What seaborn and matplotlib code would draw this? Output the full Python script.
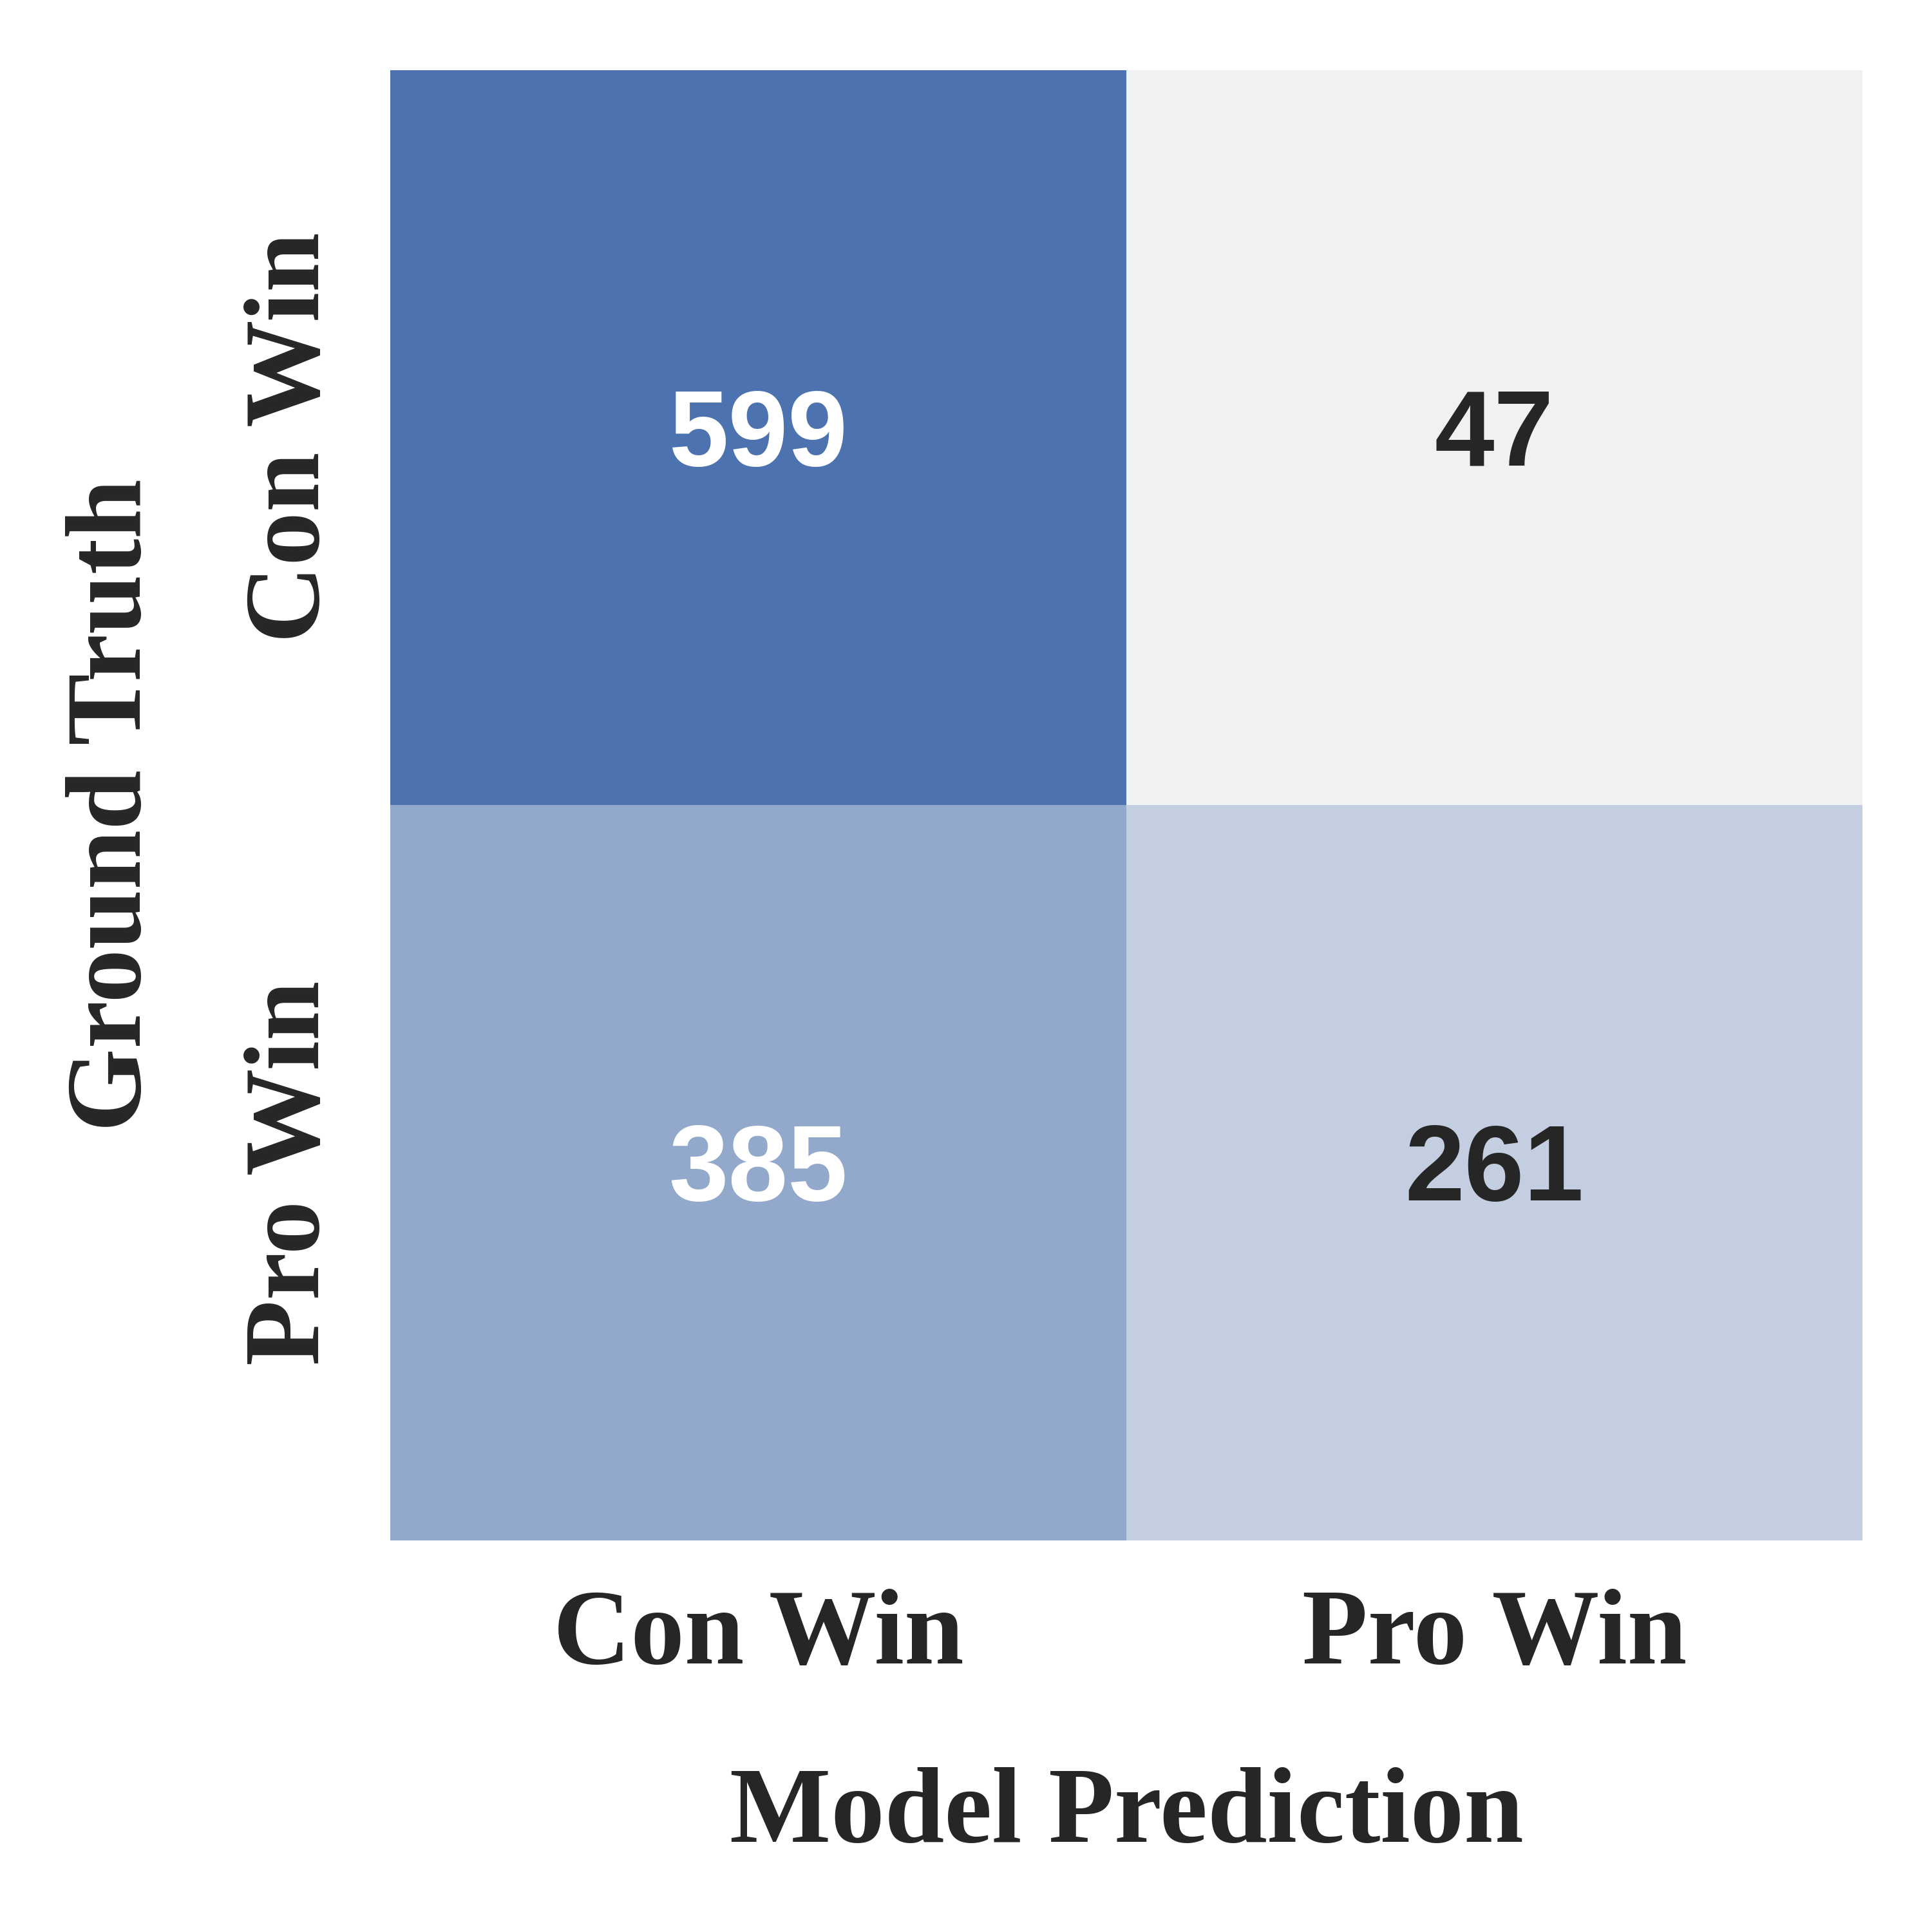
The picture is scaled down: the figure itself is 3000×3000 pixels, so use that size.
import numpy as np
import pandas as pd
import seaborn as sns
import matplotlib
matplotlib.use("Agg")
import matplotlib.pyplot as plt

labels = ["Con Win", "Pro Win"]
row_con = [599, 47]
row_pro = [385, 261]

sns.set_theme(style="white")
plt.rcParams['font.family'] = ['Liberation Serif', 'DejaVu Serif']

data = pd.DataFrame([row_con, row_pro], index=labels, columns=labels)

fig = plt.figure(figsize=(10, 10), dpi=300)
ax = fig.add_axes([0.202, 0.2027, 0.762, 0.761])
cmap = sns.light_palette("#4c72b0", as_cmap=True)
sns.heatmap(data, ax=ax, cmap=cmap, annot=True, fmt="d", cbar=False,
            vmin=145, vmax=566,
            annot_kws={"fontsize": 40, "fontweight": "bold", "family": "Liberation Sans"})
ax.set_xlabel("Model Prediction", fontsize=40, fontweight="bold", labelpad=30)
ax.set_ylabel("Ground Truth", fontsize=40, fontweight="bold", labelpad=30)
ax.set_xticklabels(labels, fontsize=40, fontweight="bold")
ax.set_yticklabels(labels, fontsize=40, fontweight="bold", rotation=90, va="center")
ax.tick_params(axis="both", length=0, pad=18)
fig.savefig("out.png", dpi=300)
